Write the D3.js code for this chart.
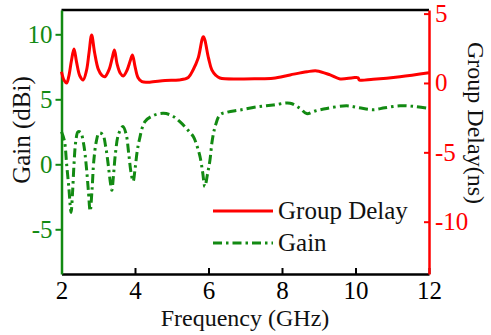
<!DOCTYPE html>
<html>
<head>
<meta charset="utf-8">
<script src="https://cdn.jsdelivr.net/npm/d3@7"></script>
<style>
  body { margin: 0; background: #fff; }
  text { font-family: "Liberation Serif", "Times New Roman", serif; }
</style>
</head>
<body>
<svg id="chart" width="491" height="335"></svg>
<script>
// frequency (GHz) / group delay (ns)
const delayFreq = [2.0, 2.07, 2.14, 2.2, 2.27, 2.34, 2.41, 2.5, 2.59, 2.68, 2.75, 2.82, 2.9, 3.0, 3.1, 3.18,
  3.3, 3.38, 3.44, 3.51, 3.6, 3.68, 3.78, 3.87, 3.93, 4.0, 4.08, 4.19, 4.4, 4.82, 5.2, 5.45, 5.58, 5.72,
  5.86, 6.0, 6.09, 6.2, 6.31, 6.86, 7.3, 7.76, 8.22, 8.68, 8.95, 9.31, 9.58, 9.93, 10.07, 10.1, 10.48, 11.21, 12];
const delayVals = [0.81, 0.2, 0.0, 0.5, 1.6, 2.45, 1.5, 0.5, 0.22, 0.9, 2.2, 3.46, 2.2, 1.0, 0.55, 0.45,
  1.0, 1.8, 2.38, 1.4, 0.7, 0.5, 0.9, 1.6, 2.02, 1.2, 0.4, 0.09, 0.06, 0.18, 0.22, 0.4, 0.94, 1.8,
  3.34, 1.8, 0.94, 0.55, 0.36, 0.29, 0.3, 0.34, 0.58, 0.81, 0.87, 0.58, 0.29, 0.38, 0.38, 0.22, 0.27, 0.45, 0.74];

// frequency (GHz) / gain (dBi)
const gainFreq = [2.0, 2.08, 2.14, 2.2, 2.26, 2.3, 2.34, 2.39, 2.45, 2.52, 2.6, 2.67, 2.73, 2.78, 2.83, 2.88,
  2.95, 3.02, 3.12, 3.2, 3.27, 3.33, 3.37, 3.41, 3.47, 3.55, 3.67, 3.76, 3.83, 3.89, 3.95, 4.0, 4.06, 4.12,
  4.27, 4.5, 4.77, 5.0, 5.22, 5.45, 5.59, 5.7, 5.77, 5.84, 5.9, 5.97, 6.04, 6.1, 6.18, 6.31, 6.5, 6.86,
  7.35, 7.76, 8.22, 8.49, 8.67, 8.9, 9.22, 9.76, 10.1, 10.48, 10.8, 11.21, 11.6, 12];
const gainVals = [2.5, 1.8, 0.0, -1.8, -3.7, -2.2, 0.0, 1.8, 2.5, 2.45, 1.6, 0.0, -2.0, -3.6, -2.0, 0.3,
  1.8, 2.4, 2.3, 1.4, 0.0, -1.4, -2.0, -1.0, 0.9, 2.3, 2.9, 2.3, 0.8, -0.6, -1.3, -0.4, 1.0, 1.9,
  3.28, 3.75, 3.92, 3.75, 3.28, 2.6, 2.12, 1.3, 0.58, -0.6, -1.72, -0.8, 0.33, 1.8, 2.9, 3.8, 4.0, 4.18,
  4.43, 4.56, 4.7, 4.3, 3.9, 4.1, 4.3, 4.5, 4.35, 4.2, 4.35, 4.5, 4.45, 4.3];

const freqTicks = [2, 4, 6, 8, 10, 12];
const gainTicks = [-5, 0, 5, 10];
const delayTicks = [-10, -5, 0, 5];

const GREEN = '#128a12', RED = '#ff0000';
const plotL = 61.5, plotR = 429, plotT = 10, plotB = 274;
const FS = 25;
const plain = d => String(d);  // hyphen minus like the original

const svg = d3.select('#chart');

const x = d3.scaleLinear().domain([2, 12]).range([plotL, plotR]);
const yGain = d3.scaleLinear().domain([-8.44, 11.87]).range([plotB, plotT]);
const yDelay = d3.scaleLinear().domain([-13.77, 5.26]).range([plotB, plotT]);

// black frame top
svg.append('line').attr('x1', plotL).attr('x2', plotR).attr('y1', plotT).attr('y2', plotT)
  .attr('stroke', '#000').attr('stroke-width', 2.5);

const xAxis = svg.append('g')
  .attr('transform', `translate(0,${plotB})`)
  .call(d3.axisBottom(x).tickValues(freqTicks).tickFormat(plain).tickSizeInner(-6).tickSizeOuter(0).tickPadding(7));
xAxis.select('.domain').attr('stroke', '#000').attr('stroke-width', 2.5);
xAxis.selectAll('.tick line').attr('stroke', '#000').attr('stroke-width', 2);
xAxis.selectAll('text').attr('font-size', FS).attr('fill', '#000');

const gAxis = svg.append('g')
  .attr('transform', `translate(${plotL},0)`)
  .call(d3.axisLeft(yGain).tickValues(gainTicks).tickFormat(plain).tickSizeInner(6).tickSizeOuter(0).tickPadding(3));
gAxis.select('.domain').attr('stroke', GREEN).attr('stroke-width', 2.5);
gAxis.selectAll('.tick line').attr('stroke', GREEN).attr('stroke-width', 2);
gAxis.selectAll('text').attr('font-size', FS).attr('fill', GREEN);

const dAxis = svg.append('g')
  .attr('transform', `translate(${plotR},0)`)
  .call(d3.axisRight(yDelay).tickValues(delayTicks).tickFormat(plain).tickSizeInner(-5).tickSizeOuter(0).tickPadding(6));
dAxis.select('.domain').attr('stroke', RED).attr('stroke-width', 2.5);
dAxis.selectAll('.tick line').attr('stroke', RED).attr('stroke-width', 2);
dAxis.selectAll('text').attr('font-size', FS).attr('fill', RED);

// curves
const delayData = delayFreq.map((f, i) => [f, delayVals[i]]);
const gainData = gainFreq.map((f, i) => [f, gainVals[i]]);

svg.append('path')
  .datum(gainData)
  .attr('fill', 'none')
  .attr('stroke', GREEN)
  .attr('stroke-width', 3)
  .attr('stroke-dasharray', '9,4,2.5,4')
  .attr('d', d3.line().x(d => x(d[0])).y(d => yGain(d[1])).curve(d3.curveCatmullRom.alpha(0.5)));

svg.append('path')
  .datum(delayData)
  .attr('fill', 'none')
  .attr('stroke', RED)
  .attr('stroke-width', 3)
  .attr('d', d3.line().x(d => x(d[0])).y(d => yDelay(d[1])).curve(d3.curveCatmullRom.alpha(0.5)));

// axis titles
svg.append('text')
  .attr('transform', 'translate(30,130) rotate(-90)')
  .attr('text-anchor', 'middle')
  .attr('font-size', FS)
  .attr('fill', '#111')
  .text('Gain (dBi)');

svg.append('text')
  .attr('transform', 'translate(468,123) rotate(90)')
  .attr('text-anchor', 'middle')
  .attr('font-size', 24)
  .attr('fill', '#111')
  .text('Group Delay(ns)');

svg.append('text')
  .attr('x', 245).attr('y', 326)
  .attr('text-anchor', 'middle')
  .attr('font-size', 24)
  .attr('fill', '#111')
  .text('Frequency (GHz)');

// legend
const legend = svg.append('g').attr('transform', 'translate(213,211)');
legend.append('line').attr('x1', 0).attr('x2', 60).attr('y1', 0).attr('y2', 0)
  .attr('stroke', RED).attr('stroke-width', 3);
legend.append('text').attr('x', 65).attr('y', 8).attr('font-size', FS).attr('fill', '#111').text('Group Delay');
legend.append('line').attr('x1', 0).attr('x2', 60).attr('y1', 32).attr('y2', 32)
  .attr('stroke', GREEN).attr('stroke-width', 3).attr('stroke-dasharray', '9,4,2.5,4');
legend.append('text').attr('x', 65).attr('y', 40).attr('font-size', FS).attr('fill', '#111').text('Gain');
</script>
</body>
</html>
